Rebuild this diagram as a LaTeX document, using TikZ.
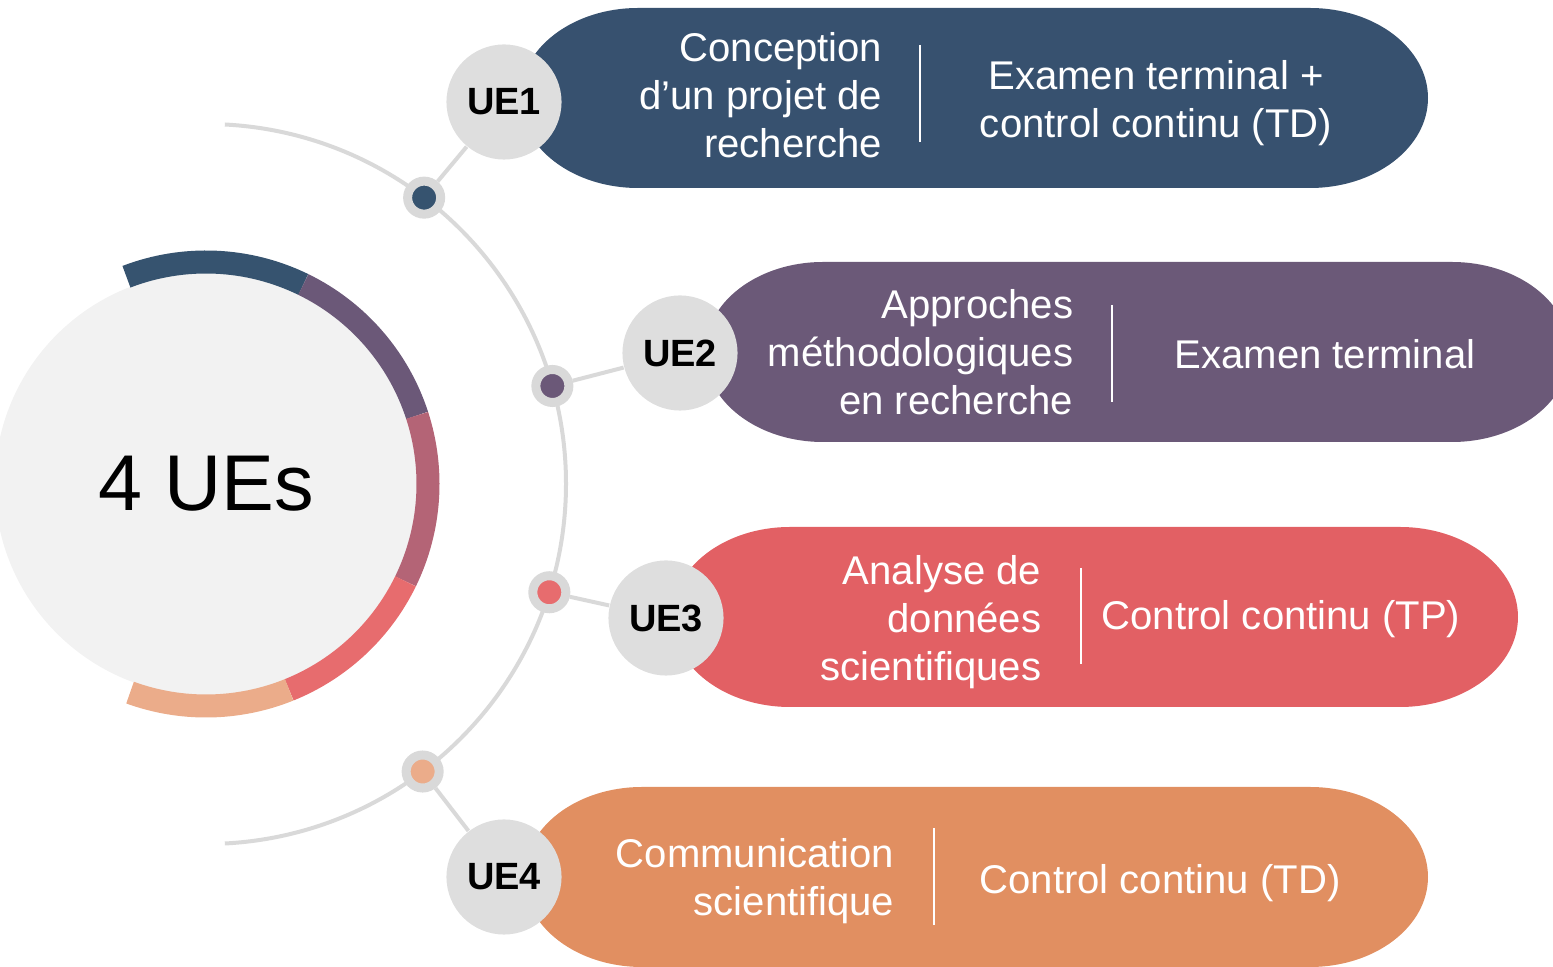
\documentclass[tikz,border=0pt]{standalone}
\usepackage{fontspec}
\setmainfont{Liberation Sans}

\definecolor{ringblue}{HTML}{36536F}
\definecolor{ringpurple}{HTML}{6B5878}
\definecolor{ringmauve}{HTML}{B46476}
\definecolor{ringcoral}{HTML}{E76C6E}
\definecolor{ringpeach}{HTML}{EBAC8A}
\definecolor{barblue}{HTML}{37516F}
\definecolor{barpurple}{HTML}{6B5978}
\definecolor{barred}{HTML}{E26064}
\definecolor{barorange}{HTML}{E18F61}
\definecolor{uegray}{HTML}{DEDEDE}
\definecolor{trackgray}{HTML}{D9D9D9}
\definecolor{coregray}{HTML}{F2F2F2}

\tikzset{
  uecircle/.style={circle, fill=uegray, minimum size=1.15cm, inner sep=0pt,
    font=\fontsize{10.8}{12}\selectfont\bfseries},
  uedot/.style={circle, draw=trackgray, line width=0.09cm, minimum size=0.33cm, inner sep=0pt},
  link/.style={draw=trackgray, line width=0.04cm},
  bartext/.style={text=white, inner sep=0pt, font=\fontsize{11.4}{13.7}\selectfont},
  divider/.style={draw=white, line width=0.6pt},
  ringseg/.style={line width=0.23cm},
}

\begin{document}
\begin{tikzpicture}[x=0.01cm, y=0.01cm]
    \clip (0,0) rectangle (1553,-967);

    % centre
    \node[circle, fill=coregray, minimum size=4.22cm, inner sep=0pt,
      font=\fontsize{22.5}{27}\selectfont] (core) at (206,-484) {4 UEs};
    \foreach \from/\to/\col in {111/64/ringblue, 64/18/ringpurple, 18/-26/ringmauve,
        -26/-68/ringcoral, -68/-110/ringpeach}
      \draw[ringseg, \col] ([shift={(\from:222)}]core.center)
        arc[start angle=\from, end angle=\to, radius=222];

    % track
    \draw[link] ([shift={(87:360)}]core.center)
        arc[start angle=87, end angle=-87, radius=360];

    % banners
    \fill[barblue] (638,-8) -- (1310,-8)
        arc[start angle=90, end angle=-90, x radius=118, y radius=90]
        -- (638,-188) arc[start angle=270, end angle=90, x radius=118, y radius=90] -- cycle;
    \fill[barpurple] (823,-262) -- (1452,-262)
        arc[start angle=90, end angle=-90, x radius=118, y radius=90]
        -- (823,-442) arc[start angle=270, end angle=90, x radius=118, y radius=90] -- cycle;
    \fill[barred] (790,-527) -- (1400,-527)
        arc[start angle=90, end angle=-90, x radius=118, y radius=90]
        -- (790,-707) arc[start angle=270, end angle=90, x radius=118, y radius=90] -- cycle;
    \fill[barorange] (642,-787) -- (1310,-787)
        arc[start angle=90, end angle=-90, x radius=118, y radius=90]
        -- (642,-967) arc[start angle=270, end angle=90, x radius=118, y radius=90] -- cycle;

    % banner texts
    \node[bartext, align=right, anchor=east] (name1) at (883,-95)
        {Conception\\d’un projet de\\recherche};
    \node[bartext, align=center] (exam1) at (1156,-103)
        {Examen terminal +\\control continu (TD)};
    \draw[divider] (920,-45) -- (920,-142);

    \node[bartext, align=right, anchor=east] (name2) at (1074,-352)
        {Approches\\méthodologiques\\en recherche};
    \node[bartext, align=center] (exam2) at (1325,-354) {Examen terminal};
    \draw[divider] (1112,-305) -- (1112,-402);

    \node[bartext, align=right, anchor=east] (name3) at (1042,-622)
        {Analyse de\\données\\scientifiques};
    \node[bartext, align=center] (exam3) at (1281,-619) {Control continu (TP)};
    \draw[divider] (1081,-568) -- (1081,-664);

    \node[bartext, align=right, anchor=east] (name4) at (895,-881)
        {Communication\\scientifique};
    \node[bartext, align=center] (exam4) at (1160,-883) {Control continu (TD)};
    \draw[divider] (934,-828) -- (934,-925);

    % dots on the track
    \node[uedot, fill=ringblue] (dot1) at ([shift={(52.7:360)}]core.center) {};
    \node[uedot, fill=ringpurple] (dot2) at ([shift={(15.8:360)}]core.center) {};
    \node[uedot, fill=ringcoral] (dot3) at ([shift={(-17.5:360)}]core.center) {};
    \node[uedot, fill=ringpeach] (dot4) at ([shift={(-53:360)}]core.center) {};

    % UE circles
    \node[uecircle] (ue1) at (504,-102) {UE1};
    \node[uecircle] (ue2) at (680,-353) {UE2};
    \node[uecircle] (ue3) at (666,-618) {UE3};
    \node[uecircle] (ue4) at (504,-877) {UE4};

    \draw[link] (dot1) -- (ue1);
    \draw[link] (dot2) -- (ue2);
    \draw[link] (dot3) -- (ue3);
    \draw[link] (dot4) -- (ue4);
\end{tikzpicture}
\end{document}
